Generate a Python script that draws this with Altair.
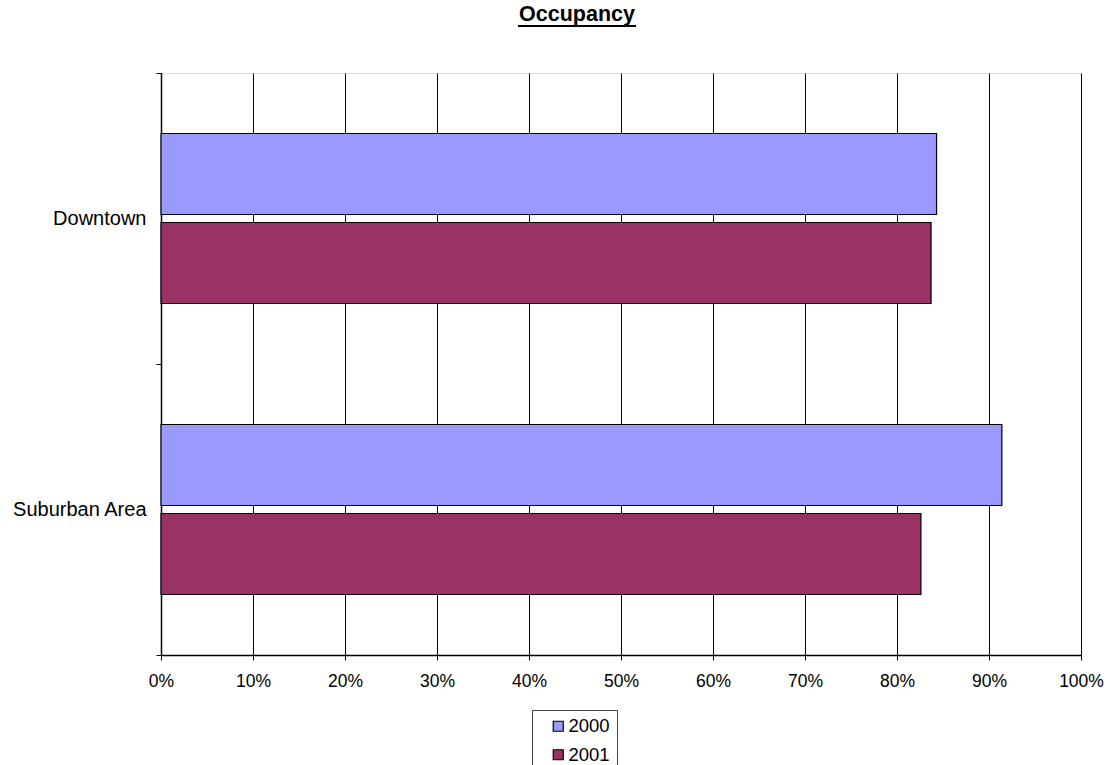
import altair as alt
import pandas as pd

categories = ["Downtown", "Downtown", "Suburban Area", "Suburban Area"]
years = ["2000", "2001", "2000", "2001"]
occupancy = [0.843, 0.837, 0.914, 0.826]

df = pd.DataFrame({"Area": categories, "Year": years, "Occupancy": occupancy})

FONT = "Liberation Sans"

bars = alt.Chart(df).mark_bar(stroke="black", strokeWidth=1.2).encode(
    x=alt.X("Occupancy:Q",
            scale=alt.Scale(domain=[0, 1], nice=False, zero=True),
            axis=alt.Axis(format=".0%", values=[i / 10 for i in range(11)],
                          title=None, grid=True, gridColor="black", gridWidth=1,
                          domainColor="black", domainWidth=1.5, labelFlush=False,
                          tickColor="black", tickSize=5, labelPadding=12,
                          labelFont=FONT, labelFontSize=17.5, labelColor="black")),
    y=alt.Y("Area:N", sort=["Downtown", "Suburban Area"],
            scale=alt.Scale(paddingInner=0, paddingOuter=0),
            axis=alt.Axis(title=None, tickBand="extent", grid=False,
                          domainColor="black", domainWidth=1.5,
                          tickColor="black", tickSize=5, labelPadding=10,
                          labelFont=FONT, labelFontSize=20, labelColor="black")),
    yOffset=alt.YOffset("Year:N", scale=alt.Scale(paddingInner=0.09, paddingOuter=0.68)),
    color=alt.Color("Year:N",
                    scale=alt.Scale(domain=["2000", "2001"], range=["#9999FF", "#993366"]),
                    legend=alt.Legend(title=None, orient="none", legendX=371, legendY=637,
                                      direction="vertical", strokeColor="#444444",
                                      padding=7, symbolType="square", symbolSize=100,
                                      symbolStrokeColor="black", symbolStrokeWidth=1.2,
                                      symbolOpacity=1, rowPadding=9.5, symbolOffset=10,
                                      labelExpr="datum.label + '\u00a0\u00a0\u00a0\u00a0'",
                                      labelFont=FONT, labelFontSize=18.5, labelColor="black",
                                      labelOffset=1)),
)

underline = alt.Chart(pd.DataFrame({"u": [0]})).mark_rule(color="black", strokeWidth=2).encode(
    x=alt.value(357), x2=alt.value(475), y=alt.value(-47)
)

chart = alt.layer(bars, underline).properties(
    width=920, height=582,
    title=alt.TitleParams("Occupancy", font=FONT, fontSize=21.5, fontWeight="bold",
                          color="black", anchor="middle", dx=-44, dy=19, offset=2,
                          baseline="alphabetic"),
    autosize=alt.AutoSizeParams(type="none"),
    padding={"left": 161, "top": 73, "right": 26, "bottom": 110},
).configure_view(stroke="#909090", strokeWidth=1.5).configure(background="white")

chart.save("out.html", embed_options={"renderer": "svg", "actions": False})
